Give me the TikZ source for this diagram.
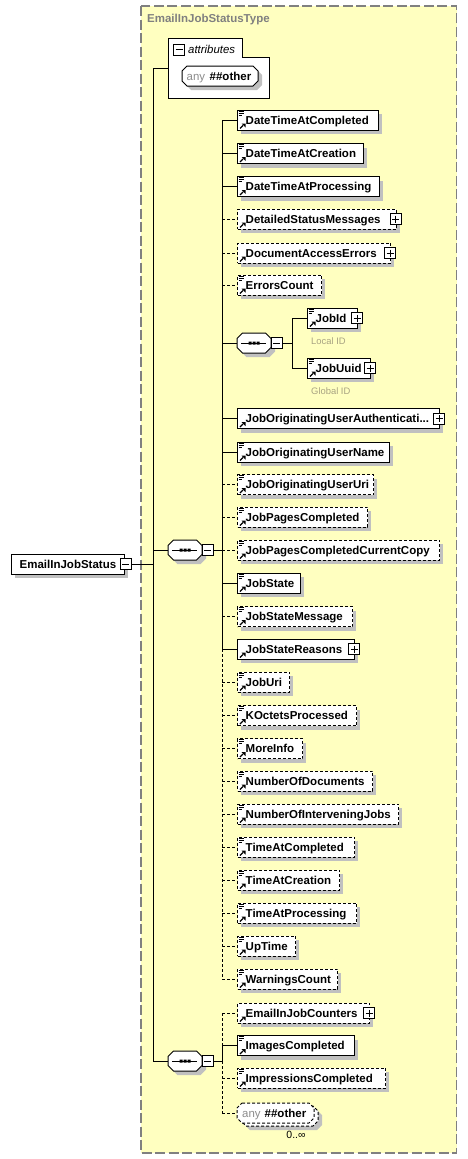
\documentclass[tikz,border=0pt]{standalone}
\usepackage{fontspec}
\setmainfont{Liberation Sans}
\definecolor{bgyellow}{RGB}{255,255,192}
\definecolor{shadowc}{RGB}{192,192,192}
\definecolor{framegray}{RGB}{128,128,128}
\definecolor{anygray}{RGB}{140,140,140}
\definecolor{annot}{RGB}{168,163,130}
\newcommand\elfont{\bfseries\fontsize{11.5}{13}\selectfont}
\newcommand\rgfont{\fontsize{11.4}{13}\selectfont}
\tikzset{
  eltext/.style={font=\elfont, anchor=base west, inner sep=0pt},
  rgtext/.style={font=\rgfont, anchor=base west, inner sep=0pt},
  reqbox/.style={draw, fill=white, line width=1pt, rectangle, minimum height=20pt, inner sep=0pt, anchor=west},
  optbox/.style={reqbox, dash pattern=on 3pt off 2pt},
  conn/.style={line width=1pt},
  optconn/.style={line width=1pt, dash pattern=on 3pt off 2pt},
  hook/.style={inner sep=0pt, minimum height=20pt},
}
\newcommand\docicon[2]{%
  \draw[line width=0.9pt] (#1+1.5,#2-9)--(#1+6.5,#2-9) (#1+1.5,#2-7)--(#1+6.5,#2-7) (#1+1.5,#2-5)--(#1+5,#2-5);
}
\newcommand\reficon[2]{%
  \draw[line width=1.3pt] (#1+3,#2+8.5)--(#1+6,#2+5.5);
  \fill (#1+4.5,#2+3.5)--(#1+8.5,#2+3.5)--(#1+8.5,#2+7.5)--cycle;
}
\newcommand\plusbox[2]{%
  \draw[line width=1pt, fill=white] (#1-5.5,#2-5.5) rectangle (#1+5.5,#2+5.5);
  \draw[line width=1pt] (#1-3.5,#2)--(#1+3.5,#2) (#1,#2-3.5)--(#1,#2+3.5);
}
\newcommand\minusbox[2]{%
  \draw[line width=1pt, fill=white] (#1-5.5,#2-5.5) rectangle (#1+5.5,#2+5.5);
  \draw[line width=1pt] (#1-3.5,#2)--(#1+3.5,#2);
}
\newcommand\octagon[6]{%
  \path[#1] (#2+#6,#3) -- (#4-#6,#3) -- (#4,#3+#6) -- (#4,#5-#6) -- (#4-#6,#5) -- (#2+#6,#5) -- (#2,#5-#6) -- (#2,#3+#6) -- cycle;
}
% generic element box: name, xleft, ycenter, xright, style, text
\newcommand\elembox[6]{%
  \pgfmathsetmacro\ew{#4-#2}%
  \fill[shadowc] (#2+4,#3-6) rectangle (#4+4,#3+14);
  \node[#5, minimum width=\ew pt] (#1) at (#2,#3) {};
  \node[eltext] (#1t) at (#2+8.5,#3+4) {#6};
}
% element on the x=222 spine: name, y, xright, box style, conn style, doc, plus, text
\newcommand\el[8]{%
  \elembox{#1}{237}{#2}{#3}{#4}{#8}
  \draw[#5] (#1.west -| spx) -- (#1.west);
  \ifnum#6=1 \docicon{237}{#2}\fi
  \reficon{237}{#2}
  \ifnum#7=1 \plusbox{#3}{#2}\fi
}
\newcommand\seqsym[3]{%
  \octagon{fill=shadowc}{#2-13}{#3-6}{#2+21}{#3+14}{5.5}
  \octagon{draw, fill=white, line width=1pt}{#2-17}{#3-10}{#2+17}{#3+10}{5.5}
  \node[hook, minimum width=34pt] (#1) at (#2,#3) {};
  \draw[line width=1pt] (#2-13,#3)--(#2+12,#3);
  \fill (#2-5.5,#3-1.5) rectangle ++(3,3) (#2-1.5,#3-1.5) rectangle ++(3,3) (#2+2.5,#3-1.5) rectangle ++(3,3);
  \minusbox{#2+22.5}{#3}
}
\begin{document}
\begin{tikzpicture}[x=1pt,y=-1pt]
\useasboundingbox (0,0) rectangle (467,1159);
% complex type frame
\draw[framegray, line width=1.5pt, dash pattern=on 10pt off 3.5pt, fill=bgyellow] (141,6) rectangle (456.5,1153);
\node[eltext, text=framegray] (title) at (147,23) {EmailInJobStatusType};

\coordinate (spL) at (153,0);
\coordinate (spx) at (222,0);
\coordinate (spy) at (292,0);

% attributes
\draw[line width=1pt, fill=white] (168,38) -- (242,38) -- (242,57) -- (269,57) -- (269,98) -- (168,98) -- cycle;
\node[inner sep=0pt, minimum width=101pt, minimum height=60pt, anchor=north west] (attr) at (168,38) {};
\minusbox{179}{49.5}
\node[rgtext, font=\itshape\rgfont] (attrlbl) at (188,53) {attributes};
\octagon{fill=shadowc}{186}{70}{262}{90}{5}
\octagon{draw, fill=white, line width=1pt}{182}{66}{258}{86}{5}
\node[hook, minimum width=76pt] (anyattr) at (220,76) {};
\node[rgtext, text=anygray] (anyattrk) at (186.5,80) {any};
\node[eltext] (anyattrv) at (209.5,80) {\#\#other};
\coordinate (attrin) at (168,68.3);

% root element
\elembox{root}{11}{564}{124}{reqbox}{EmailInJobStatus}
\coordinate (rootm) at (131,564);
\draw[conn] (rootm) -- (rootm -| spL);
\minusbox{125.5}{564}

% compositors
\seqsym{seq1}{185}{550}
\seqsym{seq2}{254}{343}
\seqsym{seq3}{185}{1061}
\coordinate (seq1m) at (213,550);
\coordinate (seq2m) at (282,343);
\coordinate (seq3m) at (213,1061);

% left spine
\draw[conn] (attrin) -- (attrin -| spL) -- (seq3.west -| spL);
\draw[conn] (seq1.west -| spL) -- (seq1.west);
\draw[conn] (seq3.west -| spL) -- (seq3.west);
\draw[conn] (seq1m) -- (seq1m -| spx);
\draw[conn] (seq3m) -- (seq3m -| spx);
\draw[conn] (seq2m) -- (seq2m -| spy);

% first sequence
\el{dtc}{120}{378}{reqbox}{conn}{1}{0}{DateTimeAtCompleted}
\el{dtcr}{153.5}{363}{reqbox}{conn}{1}{0}{DateTimeAtCreation}
\el{dtp}{186.5}{379}{reqbox}{conn}{1}{0}{DateTimeAtProcessing}
\el{dsm}{219}{395.5}{optbox}{optconn}{0}{1}{DetailedStatusMessages}
\el{dae}{253}{390}{optbox}{optconn}{0}{1}{DocumentAccessErrors}
\el{ec}{285}{321}{optbox}{optconn}{1}{0}{ErrorsCount}
\draw[conn] (seq2.west -| spx) -- (seq2.west);
\el{joua}{418.5}{439}{reqbox}{conn}{0}{1}{JobOriginatingUserAuthenticati...}
\el{joun}{452}{389}{reqbox}{conn}{1}{0}{JobOriginatingUserName}
\el{jouu}{484.5}{373}{optbox}{optconn}{1}{0}{JobOriginatingUserUri}
\el{jpc}{517}{367}{optbox}{optconn}{1}{0}{JobPagesCompleted}
\el{jpccc}{550}{439}{optbox}{optconn}{1}{0}{JobPagesCompletedCurrentCopy}
\el{js}{583}{300}{reqbox}{conn}{1}{0}{JobState}
\el{jsm}{616.5}{352}{optbox}{optconn}{1}{0}{JobStateMessage}
\el{jsr}{649}{354}{reqbox}{conn}{0}{1}{JobStateReasons}
\el{juri}{682}{289}{optbox}{optconn}{1}{0}{JobUri}
\el{kop}{715.5}{356}{optbox}{optconn}{1}{0}{KOctetsProcessed}
\el{mi}{748.5}{302}{optbox}{optconn}{1}{0}{MoreInfo}
\el{nod}{781}{372}{optbox}{optconn}{1}{0}{NumberOfDocuments}
\el{noij}{814}{398}{optbox}{optconn}{1}{0}{NumberOfInterveningJobs}
\el{tac}{847}{354}{optbox}{optconn}{1}{0}{TimeAtCompleted}
\el{tacr}{880}{339}{optbox}{optconn}{1}{0}{TimeAtCreation}
\el{tap}{913}{356}{optbox}{optconn}{1}{0}{TimeAtProcessing}
\el{ut}{946}{295}{optbox}{optconn}{1}{0}{UpTime}
\el{wc}{979}{337}{optbox}{optconn}{1}{0}{WarningsCount}
\draw[conn] (dtc.west -| spx) -- (jsr.west -| spx);
\draw[optconn] (jsr.west -| spx) -- (wc.west -| spx);

% nested sequence
\elembox{jobid}{307}{318}{357}{reqbox}{JobId}
\docicon{307}{318}\reficon{307}{318}\plusbox{357}{318}
\elembox{jobuuid}{307}{368}{370}{reqbox}{JobUuid}
\docicon{307}{368}\reficon{307}{368}\plusbox{370}{368}
\draw[conn] (jobid.west -| spy) -- (jobuuid.west -| spy);
\draw[conn] (jobid.west -| spy) -- (jobid.west);
\draw[conn] (jobuuid.west -| spy) -- (jobuuid.west);
\node[anchor=base west, inner sep=0pt, font=\fontsize{9.4}{11}\selectfont, text=annot] (localid) at (311,344) {Local ID};
\node[anchor=base west, inner sep=0pt, font=\fontsize{9.4}{11}\selectfont, text=annot] (globalid) at (311,394) {Global ID};

% second sequence
\el{ejc}{1013}{369}{optbox}{optconn}{0}{1}{EmailInJobCounters}
\el{ic}{1045.5}{354}{reqbox}{conn}{1}{0}{ImagesCompleted}
\el{impc}{1078}{385}{optbox}{optconn}{1}{0}{ImpressionsCompleted}
\octagon{fill=shadowc}{245}{1110}{322}{1130}{5}
\octagon{draw, fill=white, line width=1pt, dash pattern=on 3pt off 2pt}{241}{1106}{318}{1126}{5}
\octagon{draw, fill=white, line width=1pt, dash pattern=on 3pt off 2pt}{237}{1103}{314}{1123}{5}
\node[hook, minimum width=77pt] (anyb) at (275.5,1113) {};
\node[rgtext, text=anygray] (anybk) at (242,1117) {any};
\node[eltext] (anybv) at (264.5,1117) {\#\#other};
\node[anchor=base, inner sep=0pt, font=\fontsize{10.5}{12}\selectfont] (occ) at (296,1138) {0..∞};
\draw[optconn] (ejc.west -| spx) -- (ic.west -| spx);
\draw[conn] (ic.west -| spx) -- (seq3m -| spx);
\draw[optconn] (seq3m -| spx) -- (anyb.west -| spx);
\draw[optconn] (anyb.west -| spx) -- (anyb.west);
\end{tikzpicture}
\end{document}
